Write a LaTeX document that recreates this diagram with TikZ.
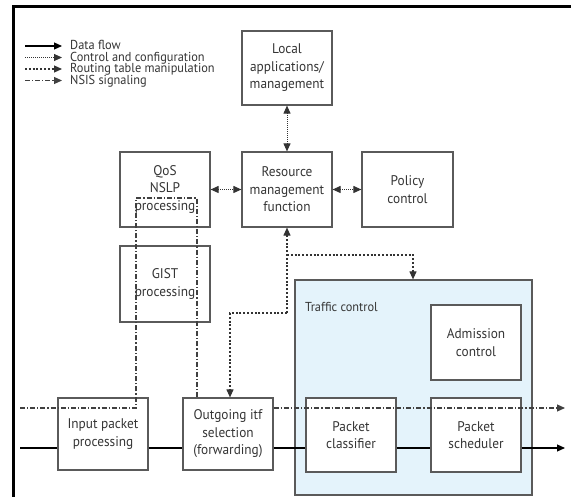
\documentclass[tikz,border=0pt]{standalone}
\usepackage{fontspec}
\setmainfont[FakeStretch=0.95]{PT Sans}
\usetikzlibrary{arrows.meta}
\definecolor{boxline}{HTML}{5A5A5A}
\definecolor{txt}{HTML}{353535}
\definecolor{tcfill}{HTML}{E4F3FB}
\tikzset{
  tip/.tip={Triangle[length=8pt,width=7pt]},
  blk/.style={draw=boxline, line width=1.2pt, fill=white, minimum width=90pt,
    minimum height=75pt, align=center, text=txt, inner sep=0pt,
    font=\fontsize{14}{17.5}\selectfont},
  dataline/.style={draw=black, line width=1.1pt},
  ctrlline/.style={draw=black!80, line width=1pt, dash pattern=on 0.8pt off 1.2pt},
  routeline/.style={draw=black!80, line width=1.1pt, dash pattern=on 2pt off 1.8pt},
  nsisline/.style={draw=black!75, line width=1.1pt, dash pattern=on 5pt off 2pt on 1.2pt off 2pt},
  legtext/.style={anchor=west, text=txt, inner sep=0pt, text height=8pt, text depth=2pt,
    font=\fontsize{13}{14}\selectfont},
}
\begin{document}
\begin{tikzpicture}[x=1pt, y=-1pt]
\useasboundingbox (0,0) rectangle (571,497);
\fill[white] (0,0) rectangle (571,497);

% frame
\draw[line width=3pt, black] (13,497) -- (13,7) -- (571,7);

% legend
\foreach \yy/\sty/\lab/\nm in {46/dataline/Data flow/la, 57.5/ctrlline/Control and configuration/lb,
    69/routeline/Routing table manipulation/lc, 80.5/nsisline/NSIS signaling/ld}{
  \coordinate (\nm s) at (25,\yy);
  \coordinate (\nm e) at (62,\yy);
  \draw[\sty, -tip] (\nm s) -- (\nm e);
  \node[legtext] (\nm t) at (70,\yy+1) {\lab};
}

% traffic control area
\node[draw=boxline, line width=1.2pt, fill=tcfill, minimum width=237pt, minimum height=215pt,
      inner sep=0pt] (tc) at (413.5,387.5) {};
\node[anchor=west, text=txt, inner sep=0pt, font=\fontsize{13}{17.5}\selectfont]
      (tclab) at (305,307) {Traffic control};

% blocks
\node[blk, minimum height=74pt] (local) at (287,68) {Local\\applications/\\management};
\node[blk] (rmf) at (287,189.5) {Resource\\management\\function};
\node[blk, minimum width=91pt] (policy) at (407.5,189.5) {Policy\\control};
\node[blk] (qos) at (165,189.5) {QoS\\NSLP\\processing};
\node[blk, minimum height=76pt] (gist) at (165,284) {GIST\\processing};
\node[blk, minimum height=72pt] (input) at (103,434) {Input packet\\processing};
\node[blk, minimum height=72pt] (outgoing) at (228,434) {Outgoing itf\\selection\\(forwarding)};
\node[blk] (admission) at (476,342.5) {Admission\\control};
\node[blk, minimum height=74pt] (classifier) at (351,435) {Packet\\classifier};
\node[blk, minimum height=74pt] (scheduler) at (476,435) {Packet\\scheduler};

% data path
\coordinate (din) at (20,448);
\coordinate (dout) at (565,448);
\draw[dataline] (din) -- (din -| input.west);
\draw[dataline] (input.east |- din) -- (din -| outgoing.west);
\draw[dataline] (outgoing.east |- din) -- (din -| classifier.west);
\draw[dataline] (classifier.east |- din) -- (din -| scheduler.west);
\draw[dataline, -tip] (scheduler.east |- din) -- (dout);

% NSIS signaling path
\coordinate (nin) at (20,408);
\coordinate (nup) at (136,408);
\coordinate (ntl) at (136,198);
\coordinate (ntr) at (197,198);
\coordinate (nout) at (565,408);
\draw[nsisline] (nin) -- (nup) -- (ntl) -- (ntr) -- (ntr |- outgoing.north);
\draw[nsisline, -tip] (outgoing.east |- nout) -- (nout);

% control and configuration
\draw[ctrlline, tip-tip] (local.south) -- (rmf.north);
\draw[ctrlline, tip-tip] (qos.east) -- (rmf.west);
\draw[ctrlline, tip-tip] (rmf.east) -- (policy.west);

% routing table manipulation
\coordinate (ra) at (287,255);
\coordinate (rb) at (413,255);
\coordinate (rc) at (287,313);
\coordinate (rd) at (230,313);
\draw[routeline, -tip] (rc) -- (rmf.south);
\draw[routeline, -tip] (ra) -- (rb) -- (rb |- tc.north);
\draw[routeline, -tip] (rc) -- (rd) -- (rd |- outgoing.north);
\end{tikzpicture}
\end{document}
